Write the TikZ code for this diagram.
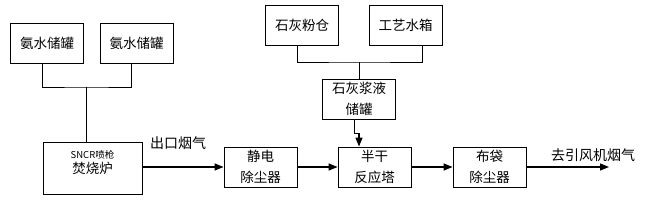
\documentclass[tikz,border=0pt]{standalone}
\usepackage{fontspec}
\setmainfont{Noto Sans CJK SC}
\usetikzlibrary{arrows.meta}
\begin{document}
\begin{tikzpicture}[x=1pt,y=-1pt]
    \useasboundingbox[fill=white] (0,0) rectangle (658,200);

    \tikzset{
        box/.style={draw, line width=0.9pt, minimum width=73pt, minimum height=40pt,
            inner sep=0pt, align=center, font=\fontsize{13.5}{21}\selectfont},
        pipe/.style={draw, line width=0.8pt},
        flow/.style={draw, line width=1.3pt, -{Triangle[length=9pt,width=7pt]}},
        lbl/.style={font=\fontsize{14}{16}\selectfont, inner sep=0pt}
    }

    % storage tanks
    \node[box] (amA) at (47,43) {氨水储罐};
    \node[box] (amB) at (136.5,43) {氨水储罐};
    \node[box] (lime) at (302,25.5) {石灰粉仓};
    \node[box] (water) at (405.5,25.5) {工艺水箱};
    \node[box] (slurry) at (359,99) {石灰浆液\\储罐};

    % main line
    \node[box, minimum width=99pt, minimum height=52pt] (inc) at (92.5,168) {};
    \node[align=center, inner sep=0pt, font=\fontsize{13.5}{15}\selectfont] (incTxt)
        at (92.5,163) {{\fontsize{9.5}{12}\selectfont SNCR喷枪}\\焚烧炉};
    \node[box] (esp) at (260.5,167) {静电\\除尘器};
    \node[box] (sdr) at (374.5,167) {半干\\反应塔};
    \node[box] (bag) at (489.5,167) {布袋\\除尘器};
    \coordinate (out) at (609,167);

    % junctions
    \coordinate (jA) at (86,87);
    \coordinate (jL) at (359,62);
    \coordinate (jS) at (354,133);

    \path[pipe] ([xshift=-5pt]amA.south) |- (jA) -| ([xshift=-5pt]amB.south);
    \path[pipe] (jA) -- (jA |- inc.north);
    \path[pipe] ([xshift=-5pt]lime.south) |- (jL) -| ([xshift=17pt]water.south);
    \path[pipe] (jL) -- (slurry.north);
    \path[pipe] (jS |- slurry.south) -- (jS) -- ++(5,0) coordinate (jT);
    \path[flow] (jT) -- (jT |- sdr.north);

    \path[flow] (inc.east |- esp.west) -- (esp.west);
    \path[flow] (esp) -- (sdr);
    \path[flow] (sdr) -- (bag);
    \path[flow] (bag) -- (out);

    \node[lbl] (t1) at (178,143) {出口烟气};
    \node[lbl] (t2) at (593,155) {去引风机烟气};
\end{tikzpicture}
\end{document}
